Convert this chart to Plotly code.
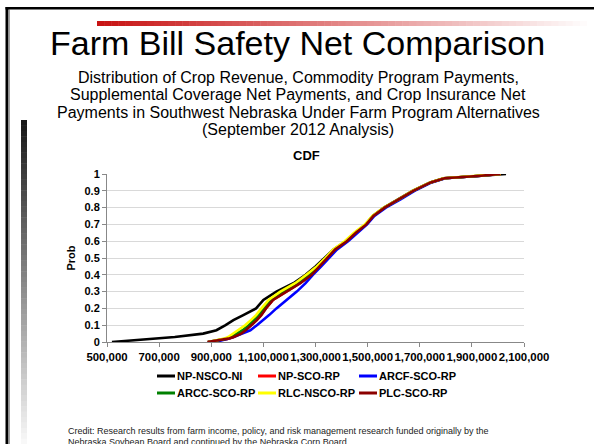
import plotly.graph_objects as go

# ---------------- data ----------------
PROB = [0, 0.01, 0.02, 0.03, 0.05, 0.07, 0.1, 0.13, 0.16, 0.2, 0.25, 0.3, 0.35, 0.4,
        0.45, 0.5, 0.55, 0.6, 0.65, 0.7, 0.75, 0.8, 0.85, 0.9, 0.95, 0.975, 0.99, 1.0]

NP_NSCO_NI = [519000, 590000, 690000, 760000, 869000, 920000, 955000, 985000, 1023000,
              1072000, 1100000, 1150000, 1215000, 1262000, 1300000, 1335000, 1369000,
              1418000, 1452000, 1493000, 1520000, 1563000, 1620000, 1672000, 1740000,
              1792000, 1935000, 2031000]
NP_SCO_RP = [888000, 932000, 966000, 987000, 1013000, 1031000, 1054000, 1074000, 1091000,
             1109000, 1137000, 1188000, 1240000, 1284000, 1314000, 1344000, 1374000,
             1419000, 1455000, 1495000, 1522000, 1565000, 1622000, 1675000, 1742000,
             1795000, 1935000, 2010000]
ARCF_SCO_RP = [915000, 945000, 965000, 985000, 1020000, 1050000, 1075000, 1100000, 1122000,
               1150000, 1190000, 1228000, 1262000, 1290000, 1322000, 1352000, 1382000,
               1425000, 1460000, 1498000, 1526000, 1570000, 1628000, 1680000, 1746000,
               1798000, 1936000, 2008000]
ARCC_SCO_RP = [887000, 928000, 958000, 976000, 1000000, 1020000, 1044000, 1064000, 1082000,
               1102000, 1130000, 1178000, 1232000, 1276000, 1310000, 1341000, 1371000,
               1416000, 1452000, 1492000, 1520000, 1563000, 1621000, 1674000, 1741000,
               1794000, 1934000, 2009000]
RLC_NSCO_RP = [890000, 925000, 950000, 965000, 985000, 1005000, 1030000, 1052000, 1072000,
               1093000, 1120000, 1165000, 1222000, 1265000, 1305000, 1338000, 1368000,
               1412000, 1448000, 1490000, 1518000, 1562000, 1620000, 1672000, 1740000,
               1792000, 1934000, 2011000]
PLC_SCO_RP = [885000, 930000, 965000, 985000, 1015000, 1032000, 1055000, 1075000, 1092000,
              1110000, 1137000, 1190000, 1242000, 1285000, 1315000, 1345000, 1375000,
              1420000, 1455000, 1495000, 1522000, 1565000, 1622000, 1675000, 1742000,
              1795000, 1935000, 2010000]

SERIES_NAMES = ["NP-NSCO-NI", "NP-SCO-RP", "ARCF-SCO-RP", "ARCC-SCO-RP", "RLC-NSCO-RP", "PLC-SCO-RP"]
SERIES_VALUES = [NP_NSCO_NI, NP_SCO_RP, ARCF_SCO_RP, ARCC_SCO_RP, RLC_NSCO_RP, PLC_SCO_RP]
SERIES_COLORS = ["#000000", "#FF0000", "#0000FF", "#008000", "#FFFF00", "#8B0000"]

X_TICKS = [500000, 700000, 900000, 1100000, 1300000, 1500000, 1700000, 1900000, 2100000]
Y_TICKS = [0, 0.1, 0.2, 0.3, 0.4, 0.5, 0.6, 0.7, 0.8, 0.9, 1]

TITLE = "Farm Bill Safety Net Comparison"
SUBTITLE = ["Distribution of Crop Revenue, Commodity Program Payments,",
            "Supplemental Coverage Net Payments, and Crop Insurance Net",
            "Payments in Southwest Nebraska Under Farm Program Alternatives",
            "(September 2012 Analysis)"]
CREDIT = ["Credit: Research results from farm income, policy, and risk management research funded originally by the",
          "Nebraska Soybean Board and continued by the Nebraska Corn Board."]

# ---------------- layout geometry (pixels) ----------------
W, H = 594, 444
PL, PR, PT, PB = 107, 524, 174, 342
FONT = "Liberation Sans, Arial, sans-serif"


def px(x):
    return (x - PL) / (PR - PL)


def py(y):
    return (PB - y) / (PB - PT)


fig = go.Figure()
for name, vals, col in zip(SERIES_NAMES, SERIES_VALUES, SERIES_COLORS):
    fig.add_trace(go.Scatter(x=vals, y=PROB, mode="lines", name=name,
                             line=dict(color=col, width=2.6), showlegend=False))

shapes = []
annotations = []

# frame (slide border)
shapes.append(dict(type="rect", xref="paper", yref="paper", x0=px(5.5), x1=px(8.5), y0=py(H), y1=py(7),
                   fillcolor="#000000", line=dict(width=0), layer="below"))
shapes.append(dict(type="rect", xref="paper", yref="paper", x0=px(8.5), x1=px(10), y0=py(H), y1=py(9.5),
                   fillcolor="#a0a0a0", line=dict(width=0), layer="below"))
shapes.append(dict(type="rect", xref="paper", yref="paper", x0=px(5.5), x1=px(W), y0=py(9.5), y1=py(7),
                   fillcolor="#000000", line=dict(width=0), layer="below"))

# red gradient bar
n = 70
x0, x1 = 97, W
for i in range(n):
    t = i / (n - 1)
    r = int(200 + (255 - 200) * t)
    g = int(20 + (255 - 20) * t)
    b = int(20 + (255 - 20) * t)
    xa = x0 + (x1 - x0) * i / n
    xb = min(x0 + (x1 - x0) * (i + 1) / n + 0.5, W)
    shapes.append(dict(type="rect", xref="paper", yref="paper", x0=px(xa), x1=px(xb), y0=py(26), y1=py(21),
                       fillcolor=f"rgb({r},{g},{b})", line=dict(width=0)))

# gray gradient bar on left
n = 60
y0, y1 = 120, H
for i in range(n):
    t = i / (n - 1)
    v = int(25 + (248 - 25) * t)
    ya = y0 + (y1 - y0) * i / n
    yb = min(y0 + (y1 - y0) * (i + 1) / n + 0.5, H)
    shapes.append(dict(type="rect", xref="paper", yref="paper", x0=px(21), x1=px(27), y0=py(yb), y1=py(ya),
                       fillcolor=f"rgb({v},{v},{v})", line=dict(width=0)))

# titles
annotations.append(dict(text=TITLE, x=px(297), y=py(43), xref="paper", yref="paper", showarrow=False,
                        xanchor="center", yanchor="middle", font=dict(size=34, color="#000000", family=FONT)))
for i, line in enumerate(SUBTITLE):
    annotations.append(dict(text=line, x=px(298), y=py(77 + 17.5 * i), xref="paper", yref="paper",
                            showarrow=False, xanchor="center", yanchor="middle",
                            font=dict(size=16, color="#000000", family=FONT)))
annotations.append(dict(text="<b>CDF</b>", x=px(306), y=py(155), xref="paper", yref="paper", showarrow=False,
                        xanchor="center", yanchor="middle", font=dict(size=13, color="#000000", family=FONT)))

# manual legend
cols_x = [157, 258, 359]
rows_y = [376, 393]
for k, (name, col) in enumerate(zip(SERIES_NAMES, SERIES_COLORS)):
    cx = cols_x[k % 3]
    ry = rows_y[k // 3]
    shapes.append(dict(type="line", xref="paper", yref="paper", x0=px(cx), x1=px(cx + 18), y0=py(ry), y1=py(ry),
                       line=dict(color=col, width=3)))
    annotations.append(dict(text=f"<b>{name}</b>", x=px(cx + 18), y=py(ry), xref="paper", yref="paper",
                            showarrow=False, xanchor="left", yanchor="middle",
                            font=dict(size=11, color="#000000", family=FONT)))

# credit
for i, line in enumerate(CREDIT):
    annotations.append(dict(text=line, x=px(66), y=py(431 + 11 * i), xref="paper", yref="paper",
                            showarrow=False, xanchor="left", yanchor="middle",
                            font=dict(size=9, color="#222222", family=FONT)))

fig.update_layout(
    width=W, height=H,
    margin=dict(l=PL, r=W - PR, t=PT, b=H - PB, pad=0),
    paper_bgcolor="white", plot_bgcolor="white",
    font=dict(family=FONT, color="#000000"),
    shapes=shapes, annotations=annotations,
    showlegend=False,
    xaxis=dict(range=[500000, 2100000], tickvals=X_TICKS,
               ticktext=[f"<b>{v:,}</b>" for v in X_TICKS], tickangle=0,
               showgrid=False, zeroline=False, showline=True, linecolor="#888888", linewidth=1,
               ticks="outside", ticklen=4, tickcolor="#888888",
               tickfont=dict(size=11.4, family=FONT, color="#000000")),
    yaxis=dict(range=[0, 1], tickvals=Y_TICKS,
               ticktext=[f"<b>{v:g}</b>" for v in Y_TICKS],
               showgrid=True, gridcolor="#d9d9d9", gridwidth=1, zeroline=False,
               showline=True, linecolor="#888888", linewidth=1,
               ticks="outside", ticklen=4, tickcolor="#888888",
               tickfont=dict(size=11, family=FONT, color="#000000"),
               title=dict(text="<b>Prob</b>", font=dict(size=11, family=FONT), standoff=6)),
)

fig.write_html("out.html", config={"displayModeBar": False},
               post_script="document.body.style.margin='0';document.body.style.overflow='hidden';")
